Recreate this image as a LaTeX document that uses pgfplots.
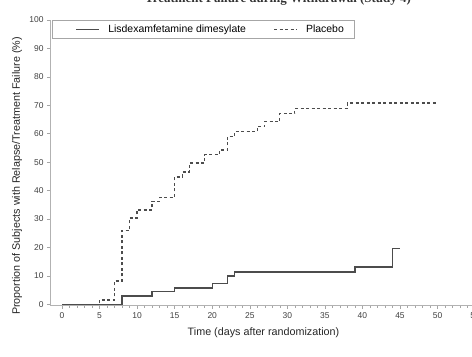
\documentclass[border=0pt]{standalone}
\usepackage{fontspec}
\setmainfont{Liberation Sans}
\newfontfamily\titlefont{Liberation Serif}
\usepackage{pgfplots}
\pgfplotsset{compat=1.18}
\begin{document}
\begin{tikzpicture}
\begin{axis}[
 scale only axis, width=432.6bp, height=285.7bp,
 xmin=-1.6, xmax=56, ymin=-0.5, ymax=100,
 axis lines*=left, axis line style={-, draw=black!30, line width=0.6bp},
 xtick={0,5,...,55}, ytick={0,10,...,100},
 minor x tick num=4,
 tick align=outside, major tick length=3bp, minor tick length=2bp,
 every tick/.style={black!35, line width=0.5bp},
 tick label style={font=\fontsize{8.5}{10}\selectfont, text=black!75},
 /pgf/number format/assume math mode=true,
 xlabel={Time (days after randomization)},
 ylabel={Proportion of Subjects with Relapse/Treatment Failure (\%)},
 label style={font=\fontsize{10.8}{13}\selectfont, text=black!85},
 xlabel style={at={(axis description cs:0.4935,-0.0945)}, anchor=center},
 ylabel style={at={(axis description cs:-0.076,0.454)}, anchor=center},
 legend columns=2,
 legend style={at={(axis description cs:0.0046,1)}, anchor=north west,
   draw=black!35, line width=0.6bp, font=\fontsize{10.5}{12}\selectfont,
   inner xsep=8bp, inner ysep=2.5bp,
   /tikz/every even column/.append style={column sep=10bp}},
 legend image code/.code={\path[draw=none] (0bp,0bp) -- (46bp,0bp); \draw[#1] (16bp,0bp) -- (39bp,0bp);},
 clip=false,
]
\addplot[const plot, draw=black!70, line width=1.3bp]
 coordinates {(0,0) (8,2.9) (12,4.4) (15,5.7) (20,7.2) (22,9.9) (23,11.4) (39,13.1) (44,19.6) (45,19.6)};
\addlegendentry{Lisdexamfetamine dimesylate}
\addplot[const plot, draw=black!70, line width=1.3bp, dash pattern=on 3bp off 2.5bp]
 coordinates {(0,0) (5,1.5) (7,8.2) (8,26) (9,30.3) (10,33.2) (12,36.2) (13,37.6) (15,44.8) (16,46.5) (17,49.7) (19,52.6) (21,54.3) (22,59.1) (23,60.8) (26,62.6) (27,64.3) (29,67.1) (31,68.9) (38,70.8) (50,70.8)};
\addlegendentry{Placebo}
\end{axis}
\node[font=\titlefont\bfseries\fontsize{13}{15}\selectfont, anchor=base, text=black!80] at (228bp,303bp) {Treatment Failure during Withdrawal (Study 4)};
\pgfresetboundingbox
\path[use as bounding box] (-50bp,-51.3bp) rectangle (422bp,305.7bp);
\end{tikzpicture}
\end{document}
